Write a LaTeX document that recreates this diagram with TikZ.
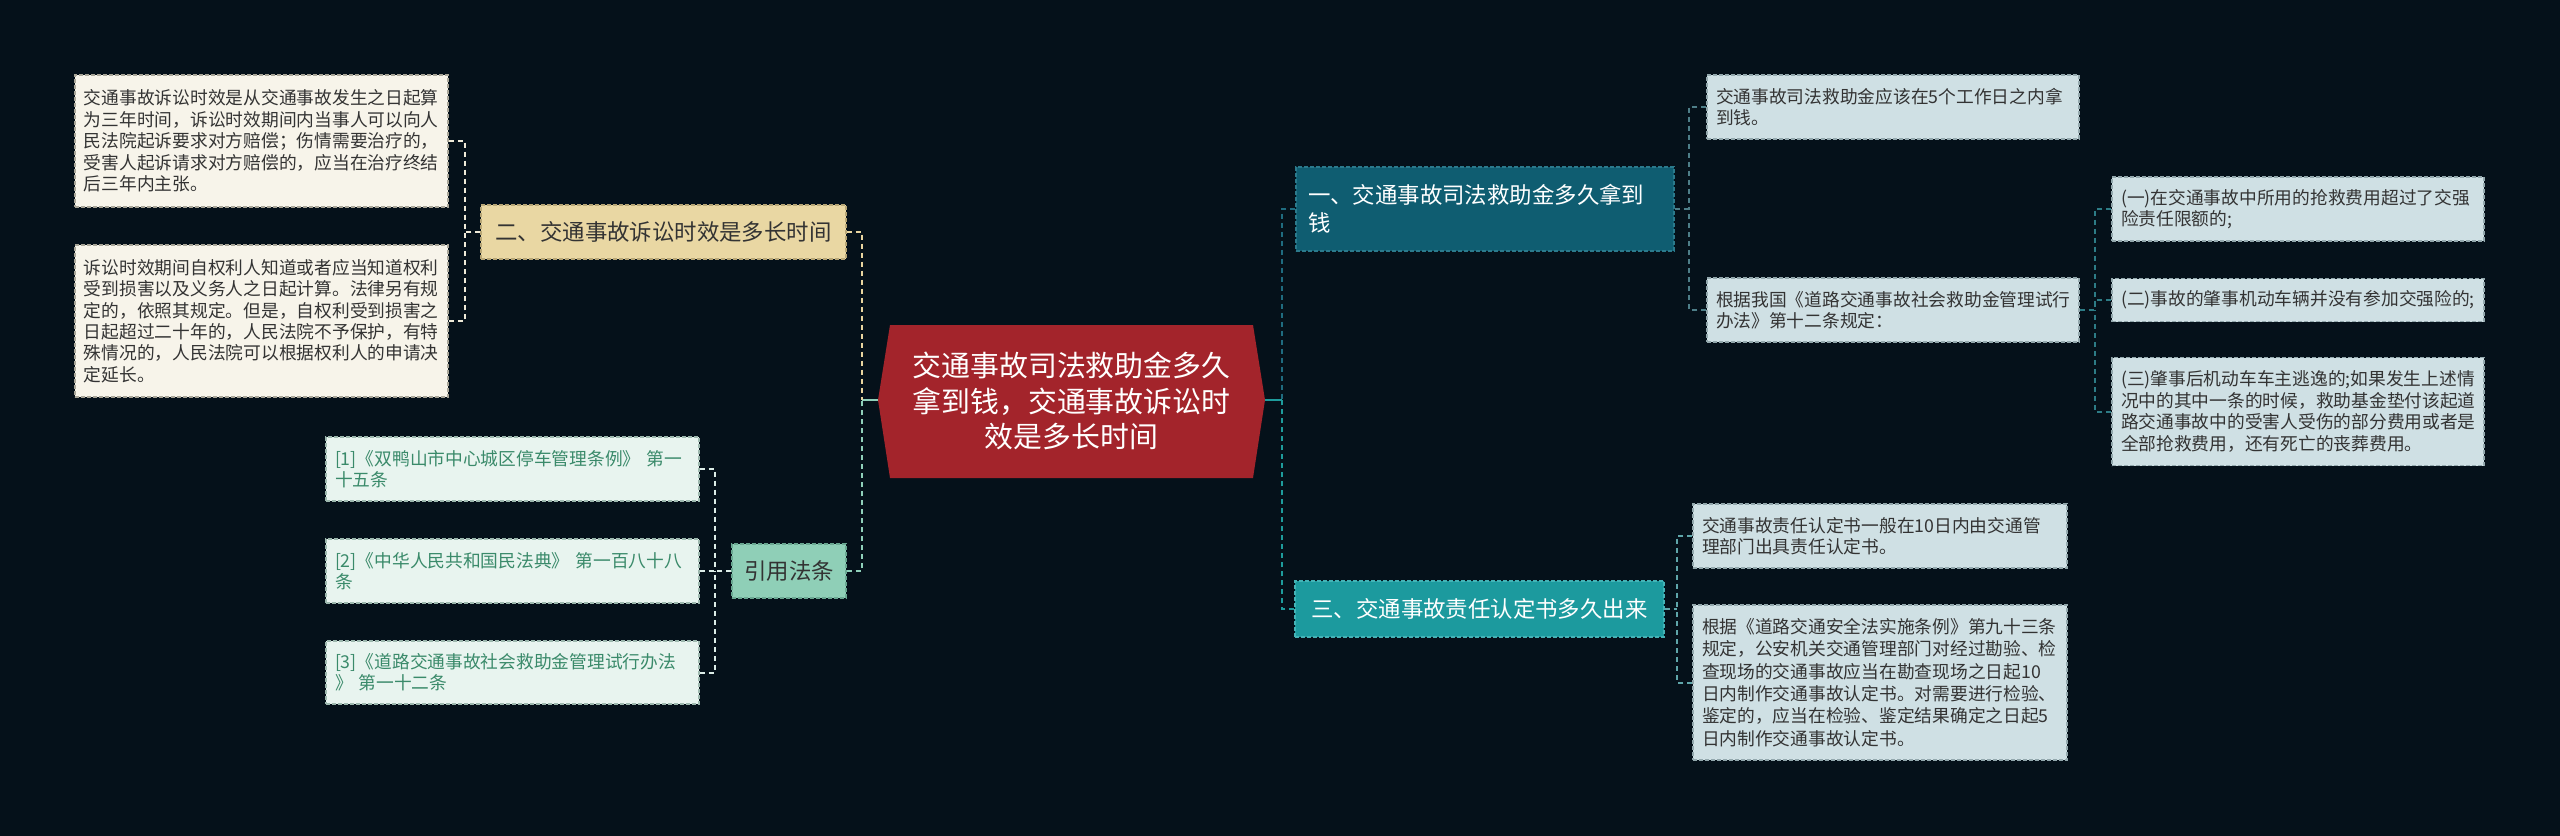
\documentclass[tikz,border=0pt]{standalone}
\usepackage{fontspec}
\setmainfont{Noto Sans CJK SC}
\definecolor{bg}{HTML}{05111A}
\definecolor{leafLfill}{HTML}{F7F4EA}
\definecolor{leafLdraw}{HTML}{A8A598}
\definecolor{refFill}{HTML}{E8F4EF}
\definecolor{refDraw}{HTML}{9DB8AE}
\definecolor{refText}{HTML}{3A8A6A}
\definecolor{leafRfill}{HTML}{CFE0E4}
\definecolor{leafRdraw}{HTML}{93A8AD}
\definecolor{txtdark}{HTML}{333333}
\definecolor{tanFill}{HTML}{E9D7A3}
\definecolor{tanDraw}{HTML}{B7A676}
\definecolor{mintFill}{HTML}{8FCFB7}
\definecolor{mintDraw}{HTML}{6AA892}
\definecolor{tealDark}{HTML}{0F5D71}
\definecolor{tealDarkDraw}{HTML}{2B7A8C}
\definecolor{tealMid}{HTML}{1C9A9E}
\definecolor{tealMidDraw}{HTML}{44B3B6}
\definecolor{hexRed}{HTML}{A3242B}
\definecolor{lnCream}{HTML}{EFEAD8}
\definecolor{lnRef}{HTML}{DCEDE7}
\definecolor{lnTan}{HTML}{E8D5A0}
\definecolor{lnMint}{HTML}{8FD0BA}
\definecolor{lnTealDark}{HTML}{1F6C80}
\definecolor{lnTealMid}{HTML}{1E9C9C}
\definecolor{lnB}{HTML}{4E7E88}
\definecolor{lnC}{HTML}{2D7C86}
\definecolor{lnD}{HTML}{5FA6AA}
\begin{document}
\begin{tikzpicture}[x=1bp,y=-1bp,
  leafbase/.style={rectangle, dash pattern=on 4bp off 2bp, line width=1.2bp,
    font=\fontsize{17.8}{21.5}\selectfont, align=left, inner xsep=9bp, inner ysep=0bp,
    text width=355bp, anchor=center},
  leafL/.style={leafbase, draw=leafLdraw, fill=leafLfill, text=txtdark},
  leafRef/.style={leafbase, draw=refDraw, fill=refFill, text=refText},
  leafR/.style={leafbase, draw=leafRdraw, fill=leafRfill, text=txtdark, text width=354bp},
  branch/.style={rectangle, dash pattern=on 4bp off 2bp, line width=1.2bp,
    font=\fontsize{22.5}{28}\selectfont, align=left, inner xsep=12bp, inner ysep=0bp, anchor=center},
  conn/.style={dash pattern=on 5bp off 4bp, line width=2bp}
]
\fill[bg] (0,0) rectangle (2560,836);

% central hexagon
\coordinate (cl) at (878,400);
\coordinate (cr) at (1265,400);
\fill[hexRed] (cl) -- (890,325) -- (1253,325) -- (cr) -- (1253,478) -- (890,478) -- cycle;
\node[text=white, font=\fontsize{29}{36}\selectfont, align=center] (ct) at (1071.5,401)
  {交通事故司法救助金多久\\拿到钱，交通事故诉讼时\\效是多长时间};

% left branches
\node[branch, draw=tanDraw, fill=tanFill, text=txtdark, minimum width=365bp, minimum height=54bp] (n2) at (663.5,232)
  {二、交通事故诉讼时效是多长时间};
\node[branch, draw=mintDraw, fill=mintFill, text=txtdark, minimum width=114bp, minimum height=54bp, inner xsep=8bp] (nref) at (789,571)
  {引用法条};

\node[leafL, minimum height=132bp] (a1) at (261.5,141)
  {交通事故诉讼时效是从交通事故发生之日起算\\为三年时间，诉讼时效期间内当事人可以向人\\民法院起诉要求对方赔偿；伤情需要治疗的，\\受害人起诉请求对方赔偿的，应当在治疗终结\\后三年内主张。};
\node[leafL, minimum height=152bp] (a2) at (261.5,321)
  {诉讼时效期间自权利人知道或者应当知道权利\\受到损害以及义务人之日起计算。法律另有规\\定的，依照其规定。但是，自权利受到损害之\\日起超过二十年的，人民法院不予保护，有特\\殊情况的，人民法院可以根据权利人的申请决\\定延长。};

\node[leafRef, minimum height=64bp] (r1) at (512.5,469)
  {[1]《双鸭山市中心城区停车管理条例》 第一\\十五条};
\node[leafRef, minimum height=64bp] (r2) at (512.5,571)
  {[2]《中华人民共和国民法典》 第一百八十八\\条};
\node[leafRef, minimum height=63bp] (r3) at (512.5,672.5)
  {[3]《道路交通事故社会救助金管理试行办法\\》 第一十二条};

% right branches
\node[branch, draw=tealDarkDraw, fill=tealDark, text=white, minimum width=378bp, minimum height=84bp, text width=354bp] (n1) at (1485,209)
  {一、交通事故司法救助金多久拿到\\钱};
\node[branch, draw=tealMidDraw, fill=tealMid, text=white, minimum width=369bp, minimum height=56bp] (n3) at (1479.5,609)
  {三、交通事故责任认定书多久出来};

\node[leafR, minimum height=64bp] (b1) at (1893,107)
  {交通事故司法救助金应该在5个工作日之内拿\\到钱。};
\node[leafR, minimum height=64bp] (b2) at (1893,310)
  {根据我国《道路交通事故社会救助金管理试行\\办法》第十二条规定：};

\node[leafR, minimum height=64bp] (c1) at (2298,209)
  {(一)在交通事故中所用的抢救费用超过了交强\\险责任限额的;};
\node[leafR, minimum height=43bp] (c2) at (2298,300)
  {(二)事故的肇事机动车辆并没有参加交强险的;};
\node[leafR, minimum height=108bp] (c3) at (2298,411.5)
  {(三)肇事后机动车车主逃逸的;如果发生上述情\\况中的其中一条的时候，救助基金垫付该起道\\路交通事故中的受害人受伤的部分费用或者是\\全部抢救费用，还有死亡的丧葬费用。};

\node[leafR, minimum height=64bp, text width=356bp] (d1) at (1880,536)
  {交通事故责任认定书一般在10日内由交通管\\理部门出具责任认定书。};
\node[leafR, minimum height=155bp, text width=356bp, font=\fontsize{17.8}{22.5}\selectfont] (d2) at (1880,682.5)
  {根据《道路交通安全法实施条例》第九十三条\\规定，公安机关交通管理部门对经过勘验、检\\查现场的交通事故应当在勘查现场之日起10\\日内制作交通事故认定书。对需要进行检验、\\鉴定的，应当在检验、鉴定结果确定之日起5\\日内制作交通事故认定书。};

% junctions
\coordinate (ja) at (465,232);
\coordinate (jr) at (715,571);
\coordinate (jm) at (862,400);
\coordinate (jR) at (1282,400);
\coordinate (j1) at (1689,209);
\coordinate (j2) at (2095,310);
\coordinate (j3) at (1677,609);

% connectors
\draw[conn, lnCream] (n2.west) -- (ja);
\draw[conn, lnCream] (a1.east) -| (ja);
\draw[conn, lnCream] (a2.east) -| (ja);

\draw[conn, lnRef] (nref.west) -- (jr);
\draw[conn, lnRef] (r1.east) -| (jr);
\draw[conn, lnRef] (r2.east) -| (jr);
\draw[conn, lnRef] (r3.east) -| (jr);

\draw[line width=2bp, lnMint] (cl) -- (jm);
\draw[conn, lnTan] (n2.east) -| (jm);
\draw[conn, lnMint] (nref.east) -| (jm);

\draw[line width=2bp, lnTealMid] (cr) -- (jR);
\draw[conn, lnTealDark] (n1.west) -| (jR);
\draw[conn, lnTealMid] (n3.west) -| (jR);

\draw[conn, lnB] (n1.east) -- (j1);
\draw[conn, lnB] (b1.west) -| (j1);
\draw[conn, lnB] (b2.west) -| (j1);

\draw[conn, lnC] (b2.east) -- (j2);
\draw[conn, lnC] (c1.west) -| (j2);
\draw[conn, lnC] (c2.west) -| (j2);
\draw[conn, lnC] (c3.west) -| (j2);

\draw[conn, lnD] (n3.east) -- (j3);
\draw[conn, lnD] (d1.west) -| (j3);
\draw[conn, lnD] (d2.west) -| (j3);
\end{tikzpicture}
\end{document}
